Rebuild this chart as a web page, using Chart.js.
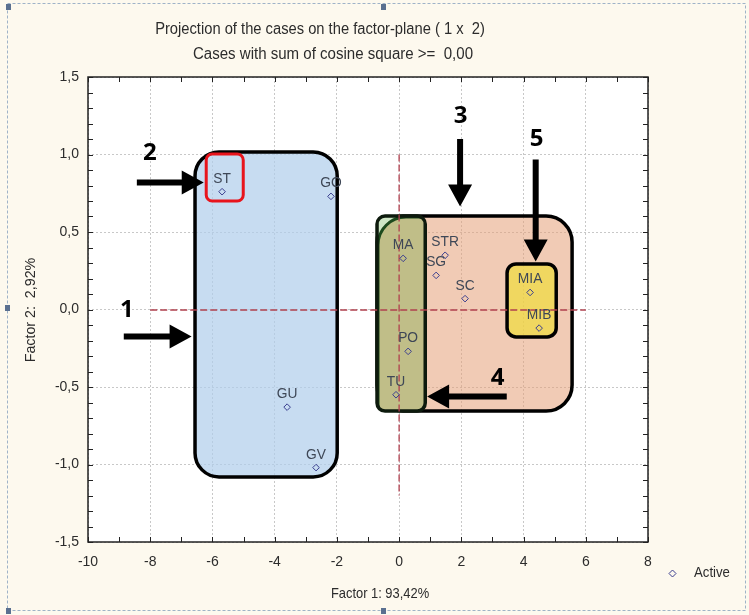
<!DOCTYPE html>
<html>
<head>
<meta charset="utf-8">
<script src="https://cdn.jsdelivr.net/npm/chart.js@4.4.1/dist/chart.umd.min.js"></script>
<style>
  html, body { margin: 0; padding: 0; background: #fdf9ee; }
  canvas { display: block; }
</style>
</head>
<body>
<canvas id="chart" width="749" height="615"></canvas>
<script>
// cases projected on factor 1 x factor 2
const caseLabels = ["ST", "GO", "GU", "GV", "MA", "STR", "SG", "SC", "MIA", "MIB", "PO", "TU"];
const factor1 = [-5.69, -2.19, -3.60, -2.67, 0.13, 1.48, 1.19, 2.12, 4.21, 4.50, 0.29, -0.10];
const factor2 = [0.76, 0.73, -0.63, -1.02, 0.33, 0.35, 0.22, 0.07, 0.11, -0.12, -0.27, -0.55];
const xTicks = [-10, -8, -6, -4, -2, 0, 2, 4, 6, 8];
const yTicks = [-1.5, -1.0, -0.5, 0.0, 0.5, 1.0, 1.5];

// hand-drawn group boxes, arrows and numbers (in data units)
const groups = [
  { x1: -6.56, y1: 1.016, x2: -1.99, y2: -1.08, r: 24, fill: "rgba(175,205,235,0.7)" },
  { x1: -0.71, y1: 0.603, x2: 5.56, y2: -0.655, r: 26, fill: "rgba(230,160,120,0.55)" },
  { x1: 3.47, y1: 0.294, x2: 5.05, y2: -0.177, r: 9, fill: "rgba(240,220,60,0.7)" }
];
const arrows = [
  { from: [-8.43, 0.82], to: [-6.28, 0.82], num: "2", at: [-8.01, 1.01] },
  { from: [-8.85, -0.174], to: [-6.67, -0.174], num: "1", at: [-8.75, -0.005] },
  { from: [1.96, 1.10], to: [1.96, 0.665], num: "3", at: [1.98, 1.245] },
  { from: [4.39, 0.968], to: [4.39, 0.31], num: "5", at: [4.42, 1.10] },
  { from: [3.46, -0.561], to: [0.90, -0.561], num: "4", at: [3.17, -0.44] }
];

const FONT = '"Liberation Sans", Arial, sans-serif';

function roundRect(ctx, x, y, w, h, r) {
  ctx.beginPath();
  ctx.moveTo(x + r, y);
  ctx.lineTo(x + w - r, y);
  ctx.arcTo(x + w, y, x + w, y + r, r);
  ctx.lineTo(x + w, y + h - r);
  ctx.arcTo(x + w, y + h, x + w - r, y + h, r);
  ctx.lineTo(x + r, y + h);
  ctx.arcTo(x, y + h, x, y + h - r, r);
  ctx.lineTo(x, y + r);
  ctx.arcTo(x, y, x + r, y, r);
  ctx.closePath();
}

function arrow(ctx, x1, y1, x2, y2) {
  const ang = Math.atan2(y2 - y1, x2 - x1);
  const len = Math.hypot(x2 - x1, y2 - y1);
  const head = 22, half = 12, shaft = 3;
  ctx.save();
  ctx.translate(x2, y2);
  ctx.rotate(ang);
  ctx.beginPath();
  ctx.moveTo(0, 0);
  ctx.lineTo(-head, -half);
  ctx.lineTo(-head, -shaft);
  ctx.lineTo(-len, -shaft);
  ctx.lineTo(-len, shaft);
  ctx.lineTo(-head, shaft);
  ctx.lineTo(-head, half);
  ctx.closePath();
  ctx.fillStyle = "#000";
  ctx.fill();
  ctx.restore();
}

// condensed text, the original uses a narrow face
function narrowText(ctx, text, x, y, size, sx) {
  ctx.save();
  ctx.translate(x, y);
  ctx.scale(sx, 1);
  ctx.font = size + "px " + FONT;
  ctx.fillText(text, 0, 0);
  ctx.restore();
}

function diamond(ctx, x, y, r) {
  ctx.beginPath();
  ctx.moveTo(x, y - r);
  ctx.lineTo(x + r, y);
  ctx.lineTo(x, y + r);
  ctx.lineTo(x - r, y);
  ctx.closePath();
  ctx.stroke();
}

const decorPlugin = {
  id: "decor",
  beforeDraw(chart) {
    const { ctx, chartArea: a, width, height } = chart;
    ctx.save();
    ctx.fillStyle = "#fdf9ee";
    ctx.fillRect(0, 0, width, height);
    ctx.fillStyle = "#fff";
    ctx.fillRect(a.left, a.top, a.right - a.left, a.bottom - a.top);
    // selection frame
    ctx.strokeStyle = "#9fb3c8";
    ctx.lineWidth = 1;
    ctx.setLineDash([3, 2]);
    ctx.strokeRect(7.5, 3.5, 738, 607);
    ctx.setLineDash([]);
    ctx.fillStyle = "#5a7090";
    [[8, 7], [383, 7], [8, 611], [383, 611], [7, 308]].forEach(p => ctx.fillRect(p[0] - 2, p[1] - 3, 5, 6));
    ctx.restore();
  },
  beforeDatasetsDraw(chart) {
    const { ctx, scales: { x, y } } = chart;
    ctx.save();
    const box = (g) => {
      const l = x.getPixelForValue(g.x1), r = x.getPixelForValue(g.x2);
      const t = y.getPixelForValue(g.y1), b = y.getPixelForValue(g.y2);
      return [l, t, r - l, b - t];
    };
    // blue group
    let [bx, by, bw, bh] = box(groups[0]);
    roundRect(ctx, bx, by, bw, bh, groups[0].r);
    ctx.fillStyle = groups[0].fill; ctx.fill();
    ctx.lineWidth = 3.5; ctx.strokeStyle = "#000"; ctx.stroke();
    // red box around ST
    [bx, by, bw, bh] = box({ x1: -6.20, y1: 1.003, x2: -5.01, y2: 0.70 });
    roundRect(ctx, bx, by, bw, bh, 6);
    ctx.lineWidth = 3; ctx.strokeStyle = "#e8141c"; ctx.stroke();
    // salmon group
    [bx, by, bw, bh] = box(groups[1]);
    roundRect(ctx, bx, by, bw, bh, groups[1].r);
    ctx.fillStyle = groups[1].fill; ctx.fill();
    ctx.lineWidth = 3.5; ctx.strokeStyle = "#000"; ctx.stroke();
    // olive group (with green corner behind)
    [bx, by, bw, bh] = box({ x1: -0.71, y1: 0.603, x2: 0.84, y2: -0.655 });
    roundRect(ctx, bx, by, bw, bh, 8);
    ctx.fillStyle = "#cfe7c6"; ctx.fill();
    ctx.save();
    ctx.clip();
    roundRect(ctx, bx + 1, by + 1, bw + 20, bh + 20, 28);
    ctx.fillStyle = "rgb(192,190,136)"; ctx.fill();
    ctx.lineWidth = 3; ctx.strokeStyle = "#1d4a1d"; ctx.stroke();
    ctx.restore();
    roundRect(ctx, bx, by, bw, bh, 8);
    ctx.lineWidth = 3.5; ctx.strokeStyle = "#0d1a0d"; ctx.stroke();
    // yellow group
    [bx, by, bw, bh] = box(groups[2]);
    roundRect(ctx, bx, by, bw, bh, groups[2].r);
    ctx.fillStyle = groups[2].fill; ctx.fill();
    ctx.lineWidth = 3.5; ctx.strokeStyle = "#000"; ctx.stroke();
    // origin reference lines
    ctx.strokeStyle = "#b0404e";
    ctx.lineWidth = 1.3;
    ctx.setLineDash([7, 3]);
    ctx.beginPath();
    ctx.moveTo(x.getPixelForValue(0), y.getPixelForValue(1.0));
    ctx.lineTo(x.getPixelForValue(0), y.getPixelForValue(-1.2));
    ctx.moveTo(x.getPixelForValue(-8), y.getPixelForValue(0) + 0.5);
    ctx.lineTo(x.getPixelForValue(6), y.getPixelForValue(0) + 0.5);
    ctx.stroke();
    ctx.restore();
  },
  afterDatasetsDraw(chart) {
    const { ctx, chartArea: a, scales: { x, y } } = chart;
    ctx.save();
    // case labels
    ctx.fillStyle = "#3e4756";
    ctx.textAlign = "center";
    ctx.textBaseline = "alphabetic";
    caseLabels.forEach((c, i) => {
      narrowText(ctx, c, x.getPixelForValue(factor1[i]), y.getPixelForValue(factor2[i]) - 9, 15, 0.92);
    });
    // plot frame
    ctx.strokeStyle = "#222";
    ctx.lineWidth = 1.5;
    ctx.strokeRect(a.left, a.top, a.right - a.left, a.bottom - a.top);
    // inward tick marks
    ctx.lineWidth = 1;
    ctx.beginPath();
    for (let v = -10; v <= 8; v++) {
      const px = Math.round(x.getPixelForValue(v)) + 0.5;
      ctx.moveTo(px, a.bottom); ctx.lineTo(px, a.bottom - 5);
      ctx.moveTo(px, a.top); ctx.lineTo(px, a.top + 5);
    }
    for (let k = -15; k <= 15; k++) {
      const py = Math.round(y.getPixelForValue(k / 10)) + 0.5;
      ctx.moveTo(a.left, py); ctx.lineTo(a.left + 5, py);
      ctx.moveTo(a.right, py); ctx.lineTo(a.right - 5, py);
    }
    ctx.stroke();
    // arrows and group numbers
    ctx.font = "bold 24px \"Open Sans\", \"Liberation Sans\", sans-serif";
    ctx.fillStyle = "#000";
    ctx.textBaseline = "middle";
    arrows.forEach(ar => {
      arrow(ctx, x.getPixelForValue(ar.from[0]), y.getPixelForValue(ar.from[1]),
        x.getPixelForValue(ar.to[0]), y.getPixelForValue(ar.to[1]));
      ctx.fillText(ar.num, x.getPixelForValue(ar.at[0]), y.getPixelForValue(ar.at[1]));
    });
    // titles
    ctx.fillStyle = "#2c2c2c";
    narrowText(ctx, "Projection of the cases on the factor-plane ( 1 x  2)", 320, 30, 16, 0.92);
    narrowText(ctx, "Cases with sum of cosine square >=  0,00", 333, 55, 16, 0.94);
    narrowText(ctx, "Factor 1: 93,42%", 380, 594, 15, 0.86);
    ctx.save();
    ctx.translate(31, 310);
    ctx.rotate(-Math.PI / 2);
    narrowText(ctx, "Factor 2:  2,92%", 0, 0, 15, 0.95);
    ctx.restore();
    // legend
    ctx.strokeStyle = "#3b3f8f";
    ctx.lineWidth = 1;
    diamond(ctx, 672.5, 573.5, 3.5);
    ctx.textAlign = "left";
    narrowText(ctx, "Active", 694, 573, 15, 0.88);
    ctx.restore();
  }
};

const tickFont = { family: FONT, size: 14 };

new Chart(document.getElementById("chart"), {
  type: "scatter",
  data: {
    datasets: [{
      label: "Active",
      data: caseLabels.map((c, i) => ({ x: factor1[i], y: factor2[i] })),
      pointStyle: "rectRot",
      pointRadius: 3.3,
      borderColor: "#3b3f8f",
      backgroundColor: "rgba(0,0,0,0)",
      borderWidth: 1
    }]
  },
  options: {
    responsive: false,
    animation: false,
    layout: { padding: { top: 77, right: 101, bottom: 43, left: 0 } },
    plugins: { legend: { display: false }, tooltip: { enabled: false } },
    scales: {
      x: {
        type: "linear",
        min: -10,
        max: 8,
        afterBuildTicks: s => { s.ticks = xTicks.map(v => ({ value: v })); },
        afterFit: s => { s.height = 30; },
        grid: { color: "#c8c8c8", drawTicks: false },
        border: { display: false, dash: [2, 2] },
        ticks: { padding: 12, color: "#2c2c2c", font: tickFont, callback: v => String(v) }
      },
      y: {
        type: "linear",
        min: -1.5,
        max: 1.5,
        afterBuildTicks: s => { s.ticks = yTicks.map(v => ({ value: v })); },
        afterFit: s => { s.width = 88; },
        grid: { color: "#c8c8c8", drawTicks: false },
        border: { display: false, dash: [2, 2] },
        ticks: { padding: 9, color: "#2c2c2c", font: tickFont, callback: v => v.toFixed(1).replace(".", ",") }
      }
    }
  },
  plugins: [decorPlugin]
});
</script>
</body>
</html>
